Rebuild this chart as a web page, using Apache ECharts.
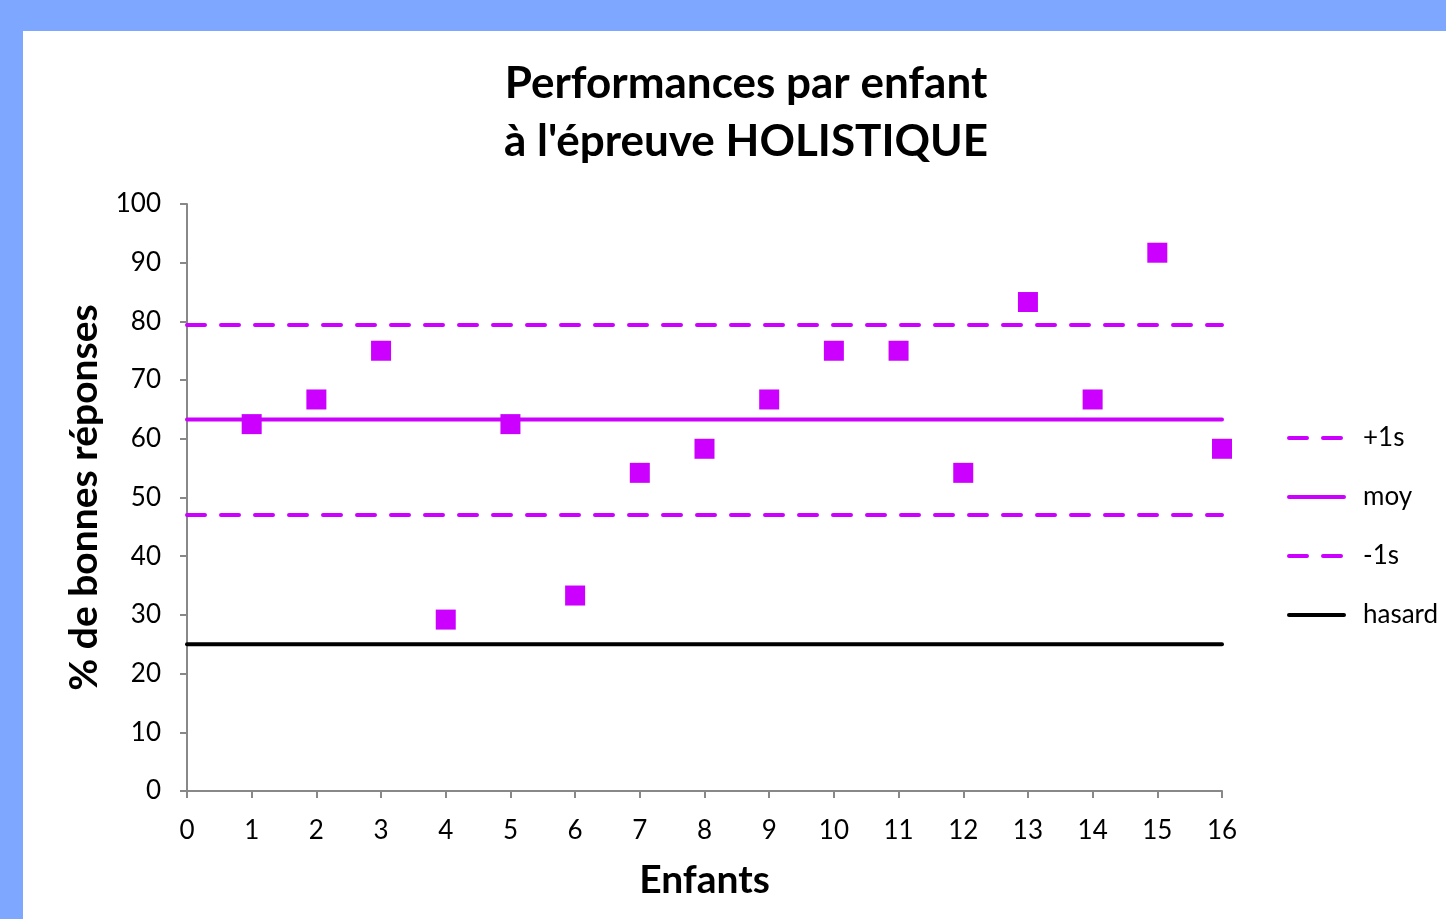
<!DOCTYPE html>
<html>
<head>
<meta charset="utf-8">
<script src="https://cdn.jsdelivr.net/npm/echarts@6/dist/echarts.min.js"></script>
<style>
html,body{margin:0;padding:0;width:1446px;height:919px;overflow:hidden;background:#7EA8FF;}
#paper{position:absolute;left:23px;top:31px;right:0;bottom:0;background:#fff;}
#chart{position:absolute;left:0;top:0;width:1446px;height:919px;}
</style>
</head>
<body>
<div id="paper"></div>
<div id="chart"></div>
<script>
// Data
var titleLines = ["Performances par enfant", "à l'épreuve HOLISTIQUE"];
var children = [1, 2, 3, 4, 5, 6, 7, 8, 9, 10, 11, 12, 13, 14, 15, 16];
var scores = [62.5, 66.7, 75, 29.2, 62.5, 33.3, 54.2, 58.3, 66.7, 75, 75, 54.2, 83.3, 66.7, 91.7, 58.3];
var refNames = ["+1s", "moy", "-1s", "hasard"];
var refValues = [79.4, 63.3, 47.0, 25.0];
var xRange = [0, 16];

var FONT = 'Lato, "Open Sans", sans-serif';
var MAG = '#CC00FF';
var refStyles = [
  {color: MAG, type: [18, 16]},
  {color: MAG, type: 'solid'},
  {color: MAG, type: [18, 16]},
  {color: '#000000', type: 'solid'}
];

var series = [{
  name: 'scores',
  type: 'scatter',
  symbol: 'rect',
  symbolSize: 20,
  itemStyle: {color: MAG, opacity: 1},
  data: children.map(function (c, i) { return [c, scores[i]]; }),
  z: 5
}];
refNames.forEach(function (n, i) {
  series.push({
    name: n,
    type: 'line',
    symbol: 'none',
    silent: true,
    lineStyle: {color: refStyles[i].color, type: refStyles[i].type, width: 4, cap: 'round'},
    itemStyle: {color: refStyles[i].color},
    data: [[xRange[0], refValues[i]], [xRange[1], refValues[i]]],
    z: 3
  });
});

var chart = echarts.init(document.getElementById('chart'));
chart.setOption({
  backgroundColor: 'transparent',
  animation: false,
  textStyle: {fontFamily: FONT},
  title: {
    text: titleLines.join('\n'),
    left: 741,
    textAlign: 'center',
    top: 50,
    textStyle: {fontFamily: FONT, fontWeight: 'bold', fontSize: 44, lineHeight: 58, color: '#000'}
  },
  legend: {
    orient: 'vertical',
    left: 1282,
    top: 419,
    itemWidth: 55,
    itemHeight: 14,
    itemGap: 31,
    data: refNames,
    itemStyle: {opacity: 0},
    lineStyle: {width: 4},
    textStyle: {fontFamily: FONT, fontSize: 26, lineHeight: 28, color: '#000', padding: [0, 0, 0, 14]}
  },
  grid: {left: 187, right: 224, top: 204, bottom: 128, containLabel: false},
  xAxis: {
    type: 'value',
    min: 0, max: 16, interval: 1,
    name: 'Enfants',
    nameLocation: 'middle',
    nameGap: 70,
    nameTextStyle: {fontFamily: FONT, fontWeight: 'bold', fontSize: 39, color: '#000'},
    axisLine: {lineStyle: {color: '#888', width: 2}},
    axisTick: {show: true, length: 7, lineStyle: {color: '#888', width: 2}},
    axisLabel: {fontFamily: FONT, fontSize: 26, color: '#000', margin: 27},
    splitLine: {show: false}
  },
  yAxis: {
    type: 'value',
    min: 0, max: 100, interval: 10,
    name: '% de bonnes réponses',
    nameLocation: 'middle',
    nameGap: 83,
    nameTextStyle: {fontFamily: FONT, fontWeight: 'bold', fontSize: 39, color: '#000'},
    axisLine: {show: true, lineStyle: {color: '#888', width: 2}},
    axisTick: {show: true, length: 7, lineStyle: {color: '#888', width: 2}},
    axisLabel: {fontFamily: FONT, fontSize: 26, color: '#000', margin: 26},
    splitLine: {show: false}
  },
  series: series
});
</script>
</body>
</html>
